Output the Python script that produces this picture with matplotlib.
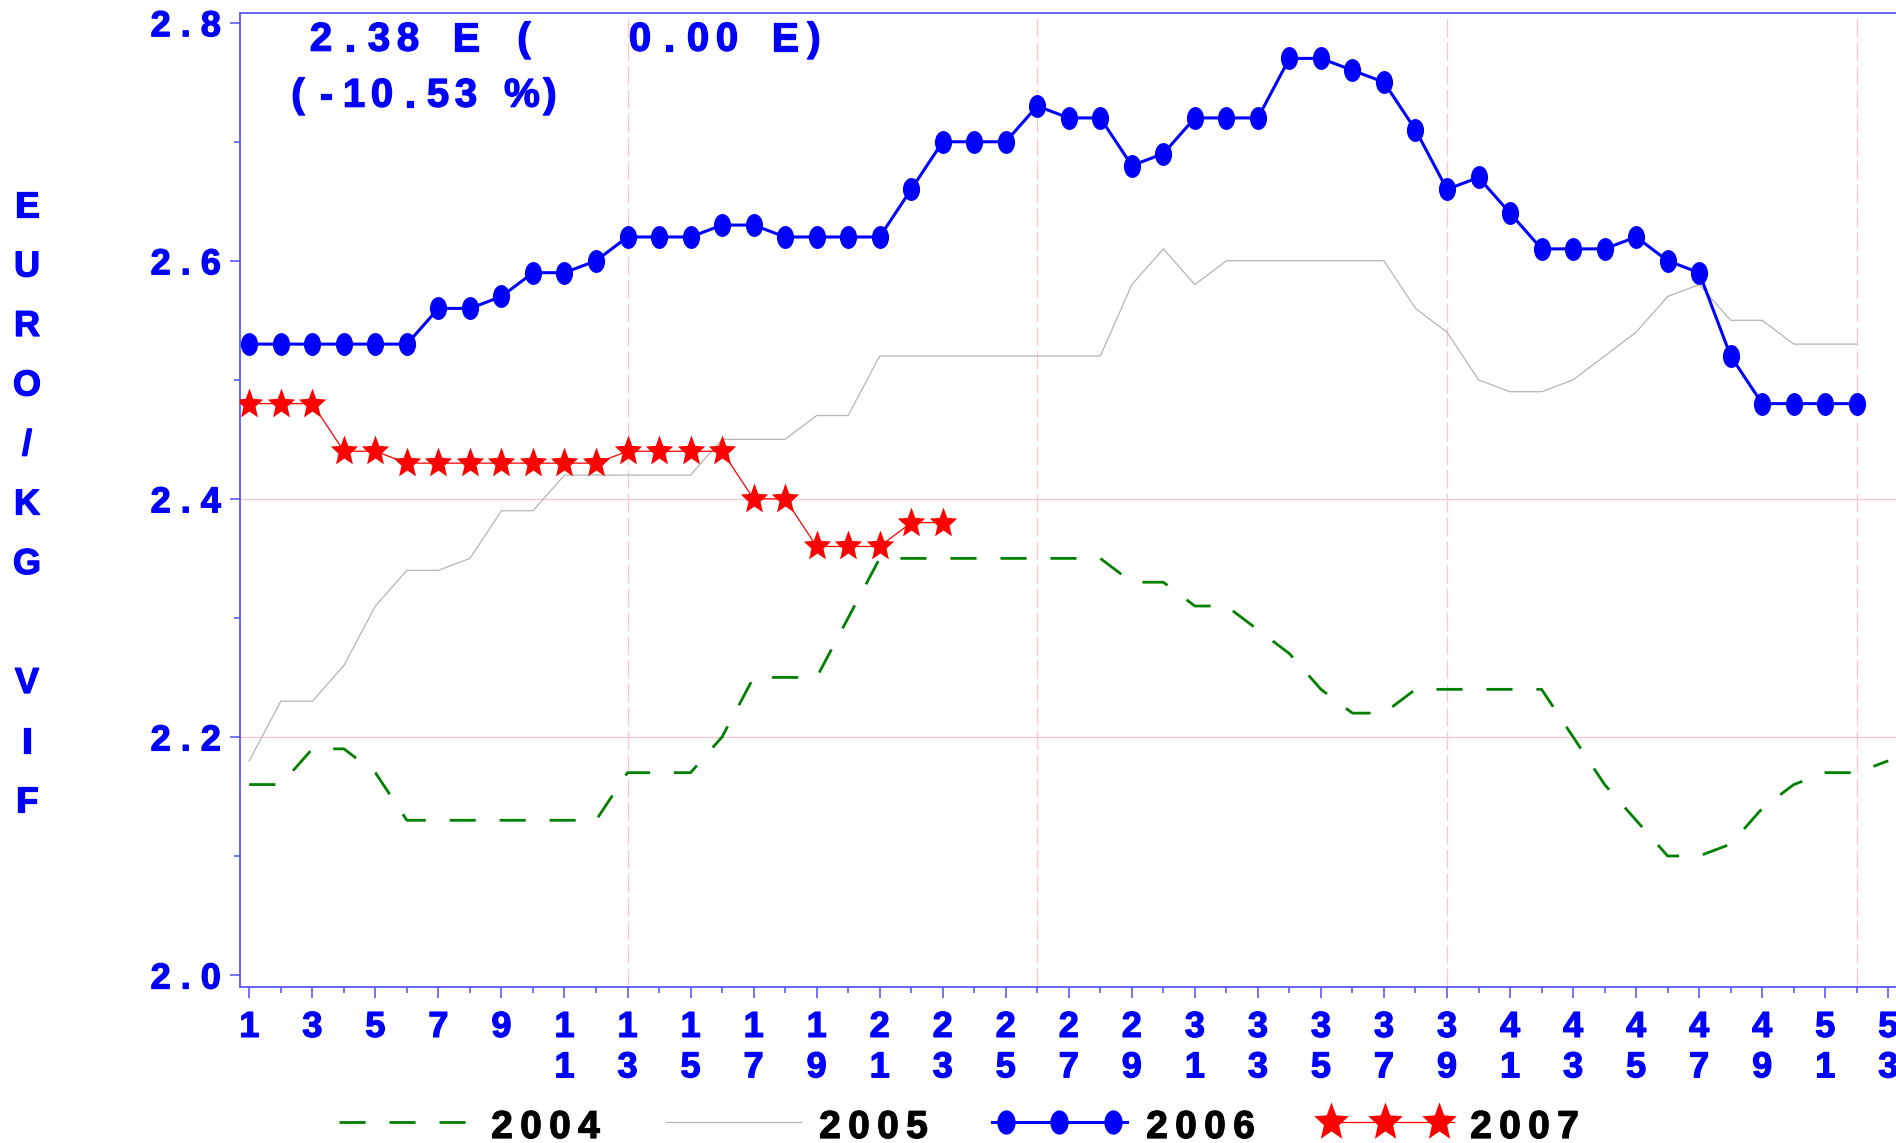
import matplotlib
matplotlib.use("Agg")
import matplotlib.pyplot as plt
import matplotlib.patheffects as pe
from matplotlib.path import Path
from matplotlib.transforms import Affine2D

# ---------------------------------------------------------------------------
# Weekly prices, EURO/KG VIF
# ---------------------------------------------------------------------------

price_2004 = [2.16, 2.16, 2.19, 2.19, 2.17, 2.13, 2.13, 2.13, 2.13, 2.13,
              2.13, 2.13, 2.17, 2.17, 2.17, 2.20, 2.25, 2.25, 2.25, 2.30,
              2.35, 2.35, 2.35, 2.35, 2.35, 2.35, 2.35, 2.35, 2.33, 2.33,
              2.31, 2.31, 2.29, 2.27, 2.24, 2.22, 2.22, 2.24, 2.24, 2.24,
              2.24, 2.24, 2.20, 2.16, 2.13, 2.10, 2.10, 2.11, 2.14, 2.16,
              2.17, 2.17, 2.18]
price_2005 = [2.18, 2.23, 2.23, 2.26, 2.31, 2.34, 2.34, 2.35, 2.39, 2.39,
              2.42, 2.42, 2.42, 2.42, 2.42, 2.45, 2.45, 2.45, 2.47, 2.47,
              2.52, 2.52, 2.52, 2.52, 2.52, 2.52, 2.52, 2.52, 2.58, 2.61,
              2.58, 2.60, 2.60, 2.60, 2.60, 2.60, 2.60, 2.56, 2.54, 2.50,
              2.49, 2.49, 2.50, 2.52, 2.54, 2.57, 2.58, 2.55, 2.55, 2.53,
              2.53, 2.53]
price_2006 = [2.53, 2.53, 2.53, 2.53, 2.53, 2.53, 2.56, 2.56, 2.57, 2.59,
              2.59, 2.60, 2.62, 2.62, 2.62, 2.63, 2.63, 2.62, 2.62, 2.62,
              2.62, 2.66, 2.70, 2.70, 2.70, 2.73, 2.72, 2.72, 2.68, 2.69,
              2.72, 2.72, 2.72, 2.77, 2.77, 2.76, 2.75, 2.71, 2.66, 2.67,
              2.64, 2.61, 2.61, 2.61, 2.62, 2.60, 2.59, 2.52, 2.48, 2.48,
              2.48, 2.48]
price_2007 = [2.48, 2.48, 2.48, 2.44, 2.44, 2.43, 2.43, 2.43, 2.43, 2.43,
              2.43, 2.43, 2.44, 2.44, 2.44, 2.44, 2.40, 2.40, 2.36, 2.36,
              2.36, 2.38, 2.38]

years = ["2004", "2005", "2006", "2007"]
y_ticks = [2.0, 2.2, 2.4, 2.6, 2.8]
y_minor = [2.1, 2.3, 2.5, 2.7]
ref_lines_y = [2.2, 2.4]
ref_lines_week = [13, 26, 39, 52]
y_label = "EURO/KG VIF"
note_line1 = "2.38 E (   0.00 E)"
note_line2 = "(-10.53 %)"

# ---------------------------------------------------------------------------
# Style
# ---------------------------------------------------------------------------

BLUE = "#0000ff"
AXIS_BLUE = "#4d4dff"
PINK = "#ffc4cc"
GREEN = "#008000"
GRAY = "#b4b4b4"
RED = "#ff0000"
DASH = (0, (9.4, 8.6))

plt.rcParams["font.family"] = ["Liberation Sans", "DejaVu Sans"]
plt.rcParams["font.weight"] = "bold"

# SAS-like markers: tall dot and fat star
DOT = Path.unit_circle().transformed(Affine2D().scale(0.75, 1.0))
STAR = Path.unit_regular_star(5, 0.44).transformed(Affine2D().scale(0.9, 1.0))


def heavy(color):
    # the SAS fonts print a little heavier than Liberation Bold
    return [pe.withStroke(linewidth=0.9, foreground=color)]


W, H = 1896, 1143
fig = plt.figure(figsize=(W / 100, H / 100), dpi=100)
fig.patch.set_facecolor("white")

ax = fig.add_axes([240 / W, 1 - 986.7 / H, 1 - 240 / W, (986.7 - 12.7) / H])


def weeks(values):
    return list(range(1, len(values) + 1))


ax.plot(weeks(price_2004), price_2004, color=GREEN, lw=2.0, ls=DASH, zorder=3)
ax.plot(weeks(price_2005), price_2005, color=GRAY, lw=0.9, zorder=3)
ax.plot(weeks(price_2006), price_2006, color=BLUE, lw=2.2, marker=DOT,
        ms=16.5, mec="none", zorder=4)
ax.plot(weeks(price_2007), price_2007, color=RED, lw=0.9, marker=STAR,
        ms=23, mec="none", zorder=5)

for v in ref_lines_y:
    ax.axhline(v, color=PINK, lw=0.9, zorder=1)
for w in ref_lines_week:
    ax.axvline(w, color=PINK, lw=0.9, ls=(0, (15, 4)), zorder=1)

ax.set_xlim(0.705, 53.245)
ax.set_ylim(1.9902, 2.8084)

major_weeks = list(range(1, 54, 2))
ax.set_xticks(major_weeks)
ax.set_xticks(list(range(2, 53, 2)), minor=True)
ax.set_xticklabels(["\n".join(str(w)) for w in major_weeks])
ax.set_yticks(y_ticks)
ax.set_yticks(y_minor, minor=True)
ax.set_yticklabels([" . ".join(f"{v:.1f}".split(".")) for v in y_ticks])

ax.tick_params(which="both", direction="out", color=AXIS_BLUE, width=1.1,
               labelcolor=BLUE, labelsize=26)
ax.tick_params(axis="x", which="major", length=7.7, pad=9)
ax.tick_params(axis="x", which="minor", length=4)
ax.tick_params(axis="y", which="major", length=7.2, pad=6.5)
ax.tick_params(axis="y", which="minor", length=4.5)
for lab in ax.get_xticklabels() + ax.get_yticklabels():
    lab.set_path_effects(heavy(BLUE))

for side in ["left", "bottom", "top"]:
    ax.spines[side].set_color(AXIS_BLUE)
    ax.spines[side].set_linewidth(1.2)
ax.spines["right"].set_visible(False)

# ---------------------------------------------------------------------------
# Free text and legend, drawn in pixel coordinates
# ---------------------------------------------------------------------------

ov = fig.add_axes([0, 0, 1, 1], zorder=5)
ov.set_xlim(0, W)
ov.set_ylim(H, 0)
ov.axis("off")


def spaced(x0, y, s, pitch, size, color):
    for i, ch in enumerate(s):
        if ch != " ":
            ov.text(x0 + i * pitch, y, ch, ha="center", va="baseline",
                    fontsize=size, color=color, fontweight="bold",
                    path_effects=heavy(color))


# vertical axis title, one letter per row
for i, ch in enumerate(y_label):
    if ch != " ":
        ov.text(27, 217 + i * 59.5, ch, ha="center", va="baseline",
                fontsize=26, color=BLUE, fontweight="bold",
                path_effects=heavy(BLUE))

spaced(321, 50.7, note_line1, 29, 29, BLUE)
spaced(298, 106.7, note_line2, 28, 29, BLUE)

# legend
ly = 1122
ov.plot([339, 466], [ly, ly], color=GREEN, lw=2.0, ls=DASH)
ov.plot([666, 801], [ly, ly], color=GRAY, lw=0.9)
ov.plot([992, 1127], [ly, ly], color=BLUE, lw=2.2)
ov.plot([1006, 1059, 1113], [ly] * 3, ls="none", marker=DOT, ms=17.5,
        color=BLUE, mec="none")
ov.plot([1331, 1454], [ly, ly], color=RED, lw=0.9)
ov.plot([1331, 1385, 1439], [ly] * 3, ls="none", marker=STAR, ms=29,
        color=RED, mec="none")

for x0, label in zip([502, 830, 1157, 1481], years):
    spaced(x0, 1138, label, 29, 28, "black")

fig.savefig("out.png", dpi=100, facecolor="white")
